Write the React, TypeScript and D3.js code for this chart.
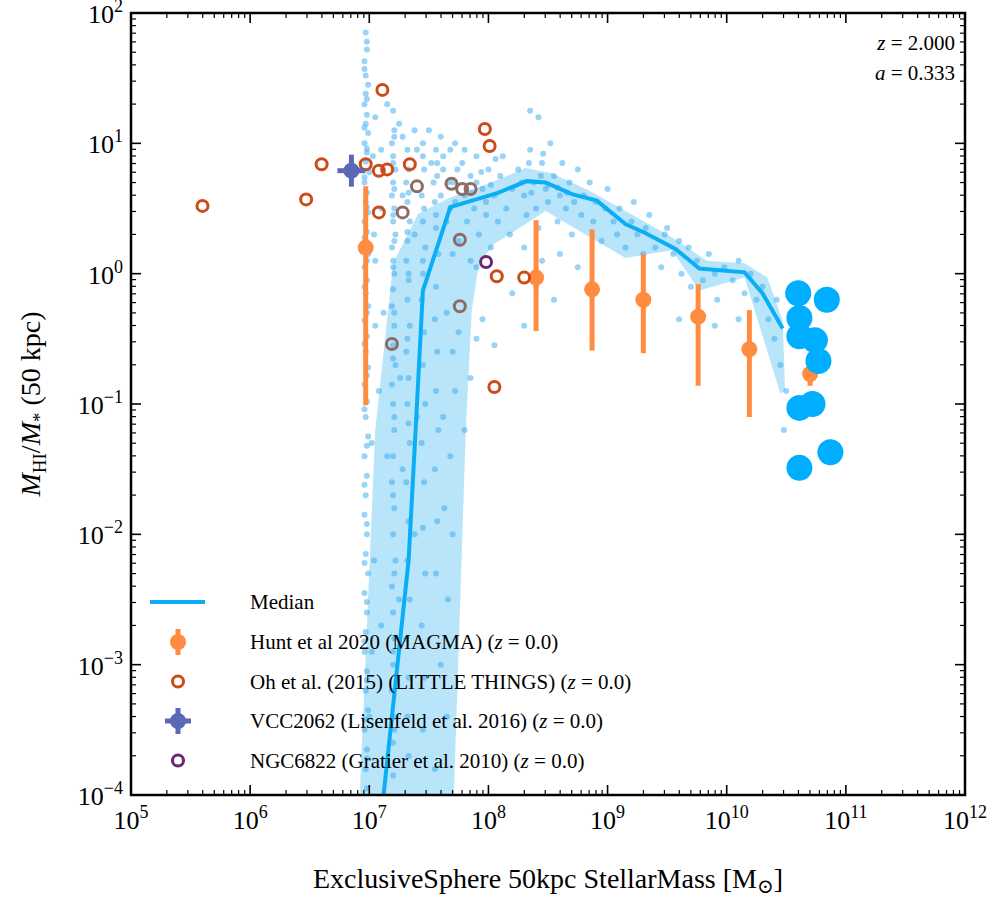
import React from "react";
import * as d3 from "d3";

const SCATTER_RAW = `6.97 1.85,6.98 1.72,6.96 1.63,6.97 1.52,6.99 1.45,6.97 1.38,6.96 1.3,6.98 1.22,6.97 1.15,6.99 1.08,6.96 1.0,6.98 0.93,6.97 0.86,7.0 0.78,6.96 0.7,6.98 0.62,6.97 0.55,6.99 0.47,6.96 0.4,6.98 0.32,6.97 0.25,6.99 0.15,6.96 0.05,6.98 -0.05,6.97 -0.15,6.99 -0.25,6.96 -0.36,6.98 -0.48,6.97 -0.6,6.99 -0.72,6.96 -0.85,6.98 -0.98,6.97 -1.1,6.99 -1.25,6.96 -1.4,6.98 -1.55,6.97 -1.7,6.96 -1.85,6.98 -2.0,6.97 -2.15,6.99 -2.3,6.96 -2.45,6.98 -2.6,6.97 -2.75,6.96 -2.9,6.98 -3.05,6.97 -3.2,6.99 -3.35,6.96 -3.5,6.98 -3.65,6.97 -3.8,6.98 -3.95,7.03 0.9,7.04 0.3,7.05 -0.4,7.02 -1.3,7.04 -2.2,7.02 -2.9,6.98 1.78,6.96 1.57,6.98 1.34,6.96 1.12,6.98 0.96,6.96 0.74,6.98 0.51,6.96 0.28,6.98 0.1,6.96 -0.1,6.98 -0.3,6.96 -0.54,6.98 -0.78,6.96 -1.04,6.98 -1.32,6.96 -1.62,6.98 -1.92,6.96 -2.22,6.98 -2.52,6.96 -2.82,6.98 -3.12,6.96 -3.42,6.98 -3.72,
7.2 1.25,7.21 1.1,7.19 1.0,7.2 0.9,7.22 0.8,7.2 0.7,7.19 0.6,7.21 0.5,7.2 0.4,7.22 0.3,7.19 0.2,7.2 0.1,7.21 0.0,7.2 -0.12,7.19 -0.25,7.21 -0.4,7.2 -0.55,7.22 -0.7,7.19 -0.85,7.2 -1.0,7.21 -1.2,7.2 -1.4,7.19 -1.6,7.21 -1.8,7.2 -2.0,7.22 -2.2,7.19 -2.4,7.2 -2.6,7.21 -2.8,7.2 -3.0,7.19 -3.2,7.21 -3.4,7.2 -3.6,7.2 -3.85,7.21 1.05,7.2 0.85,7.21 0.65,7.2 0.45,7.21 0.25,7.2 0.05,7.21 -0.3,7.2 -0.65,7.21 -1.1,7.2 -1.7,7.21 -2.3,7.2 -2.9,7.21 -3.5,
7.32 0.95,7.33 0.8,7.31 0.7,7.32 0.55,7.34 0.4,7.32 0.25,7.31 0.1,7.33 -0.05,7.32 -0.2,7.34 -0.4,7.31 -0.6,7.33 -0.8,7.32 -1.0,7.34 -1.3,7.31 -1.6,7.33 -1.9,7.32 -2.2,7.34 -2.5,7.31 -2.8,7.33 -3.1,7.32 -3.4,7.33 -3.7,7.33 0.62,7.32 0.32,7.33 0.0,7.32 -0.5,7.33 -1.15,
7.45 1.0,7.46 0.8,7.44 0.6,7.45 0.4,7.47 0.2,7.45 0.0,7.44 -0.2,7.46 -0.45,7.45 -0.7,7.47 -1.0,7.44 -1.3,7.46 -1.6,7.45 -1.95,7.47 -2.3,7.44 -2.7,7.46 -3.1,7.45 -3.5,7.45 0.9,7.46 0.5,7.45 0.1,
7.56 0.95,7.57 0.75,7.55 0.55,7.56 0.35,7.58 0.15,7.56 -0.1,7.55 -0.35,7.57 -0.6,7.56 -0.9,7.58 -1.2,7.55 -1.5,7.57 -1.9,7.56 -2.3,7.57 0.85,7.56 0.45,
7.65 -0.3,7.7 -0.6,7.72 -0.9,7.62 -1.1,7.75 -0.45,7.68 -1.4,7.8 -1.2,7.85 -0.8,7.9 -0.5,7.95 -0.35,8.05 -0.55,7.63 -1.8,7.7 -2.0,7.66 -2.5,7.6 -3.0,7.65 -3.4,7.55 -3.8,
7.05 1.2,7.1 0.95,7.15 1.3,7.25 1.15,7.28 1.05,7.38 1.1,7.4 0.95,7.5 1.1,7.52 0.85,7.6 1.05,7.62 0.8,7.68 0.95,7.7 0.7,7.72 0.55,7.78 0.85,7.8 0.6,7.82 0.4,7.85 0.75,7.88 0.5,7.9 0.9,7.92 0.3,7.95 0.65,7.98 0.45,8.0 0.8,8.02 0.2,8.05 0.6,8.08 0.4,8.1 0.75,8.12 0.9,8.15 0.5,8.18 0.3,8.2 0.65,7.65 0.4,7.75 0.25,7.7 0.15,7.6 0.6,7.85 0.1,7.9 0.05,7.28 0.6,7.38 0.3,7.1 0.5,7.05 0.1,7.12 -0.3,7.08 -0.9,7.15 -1.4,7.26 -0.8,7.28 -1.5,7.4 -1.1,7.38 -2.0,7.25 -2.5,7.1 -2.7,7.0 -3.4,7.66 0.7,7.74 0.8,7.8 0.95,7.86 0.62,7.94 0.78,8.02 0.68,8.06 0.88,7.98 0.55,7.9 0.7,7.72 1.0,7.62 0.9,7.54 0.7,7.68 0.5,
8.25 0.8,8.3 0.6,8.32 0.45,8.35 0.95,8.38 0.7,8.4 0.5,8.42 0.35,8.45 0.85,8.48 0.65,8.5 0.55,8.52 1.0,8.55 0.75,8.58 0.4,8.6 0.6,8.62 0.85,8.65 0.5,8.68 0.7,8.7 0.3,8.72 0.55,8.75 0.8,8.78 0.45,8.8 0.6,8.85 0.7,8.88 0.4,8.9 0.55,8.95 0.25,8.98 0.5,9.0 0.65,9.05 0.4,9.08 0.3,9.1 0.5,9.15 0.2,9.2 0.4,9.22 0.55,9.25 0.3,9.3 0.15,9.32 0.35,9.35 0.45,9.4 0.2,9.45 0.05,9.48 0.3,8.3 0.2,8.45 0.1,8.6 0.15,8.75 0.05,8.4 -0.1,8.55 -0.2,8.3 -0.4,8.2 -0.15,8.35 1.25,8.42 1.2,8.28 0.7,8.36 0.62,8.44 0.75,8.5 0.68,8.58 0.66,8.66 0.62,8.34 0.85,8.46 0.92,
9.5 0.35,9.55 0.15,9.6 0.25,9.62 0.0,9.68 0.2,9.7 -0.1,9.75 0.1,9.8 -0.05,9.85 0.15,9.9 0.0,9.92 -0.2,9.98 0.05,10.05 -0.05,10.1 0.1,10.15 -0.15,10.2 0.0,10.25 -0.2,10.3 -0.1,10.35 -0.35,10.4 -0.5,10.42 -0.2,10.45 -0.7,10.5 -0.9,9.6 -0.35,9.9 -0.4,10.1 -0.35,10.55 -0.1,10.48 -1.2`;
const scatter: [number, number][] = SCATTER_RAW.split(",").map((s) => s.trim().split(/\s+/).map(Number) as [number, number]);

// log10 values
const medianX = [7.12, 7.33, 7.39, 7.45, 7.68, 8.08, 8.32, 8.48, 8.70, 8.91, 9.15, 9.32, 9.57, 9.77, 10.15, 10.30, 10.47];
const medianY = [-4.0, -2.20, -1.18, -0.13, 0.51, 0.62, 0.71, 0.70, 0.61, 0.56, 0.38, 0.31, 0.19, 0.04, 0.01, -0.15, -0.42];

const bandUpX = [6.92, 7.05, 7.20, 7.41, 7.67, 8.05, 8.31, 8.53, 8.84, 9.15, 9.54, 9.83, 10.15, 10.34, 10.47, 10.49];
const bandUpY = [-4.0, -1.20, 0.08, 0.46, 0.58, 0.71, 0.81, 0.77, 0.64, 0.48, 0.28, 0.10, 0.08, -0.03, -0.36, -0.90];
const bandLoX = [10.45, 10.15, 9.77, 9.54, 9.15, 8.48, 8.26, 8.05, 7.92, 7.86, 7.81, 7.71];
const bandLoY = [-0.92, -0.03, -0.13, 0.18, 0.12, 0.48, 0.35, 0.23, 0.08, -0.28, -1.20, -4.0];

const huntX = [6.97, 8.40, 8.87, 9.30, 9.76, 10.19, 10.70];
const huntY = [0.20, -0.03, -0.12, -0.20, -0.33, -0.58, -0.77];
const huntHi = [0.67, 0.41, 0.34, 0.15, -0.08, -0.28, -0.67];
const huntLo = [-1.01, -0.44, -0.59, -0.61, -0.86, -1.10, -0.86];

const ohX = [5.60, 6.47, 6.60, 6.97, 7.08, 7.15, 7.34, 7.11, 7.08, 7.97, 8.01, 8.07, 8.30, 8.05];
const ohY = [0.52, 0.57, 0.84, 0.84, 0.79, 0.80, 0.84, 1.41, 0.47, 1.11, 0.98, -0.02, -0.03, -0.87];

const greyX = [7.40, 7.69, 7.78, 7.85, 7.76, 7.76, 7.28, 7.19];
const greyY = [0.67, 0.69, 0.65, 0.65, 0.26, -0.25, 0.47, -0.54];

const ngcX = [7.98];
const ngcY = [0.09];
const vccX = [6.85];
const vccY = [0.79];

const bigX = [10.60, 10.84, 10.61, 10.74, 10.61, 10.77, 10.61, 10.72, 10.61, 10.87];
const bigY = [-0.15, -0.20, -0.34, -0.51, -0.48, -0.67, -1.03, -1.00, -1.49, -1.37];

const xDecades = [5, 6, 7, 8, 9, 10, 11, 12];
const yDecades = [-4, -3, -2, -1, 0, 1, 2];

const C_MED = "#0aaef5";
const C_BAND = "#b0e2fa";
const C_PT = "#33aaf2";
const C_HUNT = "#ff8c40";
const C_OH = "#cc4b1a";
const C_GREY = "#8e6b63";
const C_NGC = "#6b2770";
const C_VCC = "#5a68b5";
const FONT = "Liberation Serif, Times New Roman, DejaVu Serif, serif";

export default function App() {
  const L = 131, R = 965, T = 13, B = 795;
  const x = d3.scaleLog().domain([1e5, 1e12]).range([L, R]);
  const y = d3.scaleLog().domain([1e-4, 1e2]).range([B, T]);
  const X = (v: number) => x(Math.pow(10, v));
  const Y = (v: number) => y(Math.pow(10, v));

  const line = d3.line<number>().x((_, i) => X(medianX[i])).y((_, i) => Y(medianY[i]));
  const bandPts: [number, number][] = [
    ...bandUpX.map((v, i) => [X(v), Y(bandUpY[i])] as [number, number]),
    ...bandLoX.map((v, i) => [X(v), Y(bandLoY[i])] as [number, number]),
  ];
  const bandPath = d3.line()(bandPts) + "Z";

  const ticks: JSX.Element[] = [];
  xDecades.forEach((d, di) => {
    const px = X(d);
    ticks.push(<line key={"xM" + d} x1={px} x2={px} y1={B} y2={B - 10} stroke="#000" strokeWidth={1.6} />);
    ticks.push(<line key={"xMt" + d} x1={px} x2={px} y1={T} y2={T + 10} stroke="#000" strokeWidth={1.6} />);
    if (di < xDecades.length - 1)
      for (let m = 2; m <= 9; m++) {
        const p = x(m * Math.pow(10, d));
        ticks.push(<line key={`xm${d}${m}`} x1={p} x2={p} y1={B} y2={B - 5} stroke="#000" strokeWidth={1.2} />);
        ticks.push(<line key={`xmt${d}${m}`} x1={p} x2={p} y1={T} y2={T + 5} stroke="#000" strokeWidth={1.2} />);
      }
  });
  yDecades.forEach((d, di) => {
    const py = Y(d);
    ticks.push(<line key={"yM" + d} y1={py} y2={py} x1={L} x2={L + 10} stroke="#000" strokeWidth={1.6} />);
    ticks.push(<line key={"yMr" + d} y1={py} y2={py} x1={R} x2={R - 10} stroke="#000" strokeWidth={1.6} />);
    if (di < yDecades.length - 1)
      for (let m = 2; m <= 9; m++) {
        const p = y(m * Math.pow(10, d));
        ticks.push(<line key={`ym${d}${m}`} y1={p} y2={p} x1={L} x2={L + 5} stroke="#000" strokeWidth={1.2} />);
        ticks.push(<line key={`ymr${d}${m}`} y1={p} y2={p} x1={R} x2={R - 5} stroke="#000" strokeWidth={1.2} />);
      }
  });
  const exp = (d: number) => (d < 0 ? "\u2212" + Math.abs(d) : String(d));

  const legend = [
    { label: "Hunt et al 2020 (MAGMA)", kind: "hunt" },
    { label: "Oh et al. (2015) (LITTLE THINGS)", kind: "oh" },
    { label: "VCC2062 (Lisenfeld et al. 2016)", kind: "vcc" },
    { label: "NGC6822 (Gratier et al. 2010)", kind: "ngc" },
  ];

  return (
    <svg width={996} height={900} style={{ position: "absolute", left: 0, top: 0, fontFamily: FONT }}>
      <rect width={996} height={900} fill="#fff" />
      <defs>
        <clipPath id="clip"><rect x={L} y={T} width={R - L} height={B - T} /></clipPath>
      </defs>
      <g clipPath="url(#clip)">
        <path d={bandPath} fill={C_BAND} opacity={0.9} />
        {scatter.map((p, i) => (
          <circle key={i} cx={X(p[0])} cy={Y(p[1])} r={3} fill={C_PT} opacity={0.5} />
        ))}
        <path d={line(medianX) || ""} fill="none" stroke={C_MED} strokeWidth={4} />
        {huntX.map((v, i) => (
          <g key={"h" + i}>
            <line x1={X(v)} x2={X(v)} y1={Y(huntHi[i])} y2={Y(huntLo[i])} stroke={C_HUNT} strokeWidth={5} />
            <circle cx={X(v)} cy={Y(huntY[i])} r={8} fill={C_HUNT} />
          </g>
        ))}
        {ohX.map((v, i) => (
          <circle key={"o" + i} cx={X(v)} cy={Y(ohY[i])} r={5.5} fill="none" stroke={C_OH} strokeWidth={3} />
        ))}
        {greyX.map((v, i) => (
          <circle key={"g" + i} cx={X(v)} cy={Y(greyY[i])} r={5.5} fill="none" stroke={C_GREY} strokeWidth={3} />
        ))}
        {ngcX.map((v, i) => (
          <circle key={"n" + i} cx={X(v)} cy={Y(ngcY[i])} r={5.5} fill="none" stroke={C_NGC} strokeWidth={3} />
        ))}
        {vccX.map((v, i) => (
          <g key={"v" + i}>
            <line x1={X(v) - 14} x2={X(v) + 14} y1={Y(vccY[i])} y2={Y(vccY[i])} stroke={C_VCC} strokeWidth={5} />
            <line x1={X(v)} x2={X(v)} y1={Y(vccY[i]) - 16} y2={Y(vccY[i]) + 16} stroke={C_VCC} strokeWidth={5} />
            <circle cx={X(v)} cy={Y(vccY[i])} r={8} fill={C_VCC} />
          </g>
        ))}
        {bigX.map((v, i) => (
          <circle key={"b" + i} cx={X(v)} cy={Y(bigY[i])} r={13} fill="#00aeff" />
        ))}
      </g>
      <rect x={L} y={T} width={R - L} height={B - T} fill="none" stroke="#000" strokeWidth={2.5} />
      {ticks}
      {xDecades.map((d) => (
        <text key={"xl" + d} x={X(d)} y={B + 34} textAnchor="middle" fontSize={26}>
          10<tspan dy={-11} fontSize={18}>{d}</tspan>
        </text>
      ))}
      {yDecades.map((d) => (
        <text key={"yl" + d} x={L - 8} y={Y(d) + 10} textAnchor="end" fontSize={26}>
          10<tspan dy={-11} fontSize={18}>{exp(d)}</tspan>
        </text>
      ))}
      <text x={(L + R) / 2} y={888} textAnchor="middle" fontSize={28}>
        ExclusiveSphere 50kpc StellarMass [M<tspan dy={5} fontSize={20}>{"\u2299"}</tspan><tspan dy={-5}>]</tspan>
      </text>
      <text transform={`translate(40,${(T + B) / 2}) rotate(-90)`} textAnchor="middle" fontSize={28}>
        <tspan fontStyle="italic">M</tspan><tspan dy={6} fontSize={19}>HI</tspan><tspan dy={-6}>/</tspan><tspan fontStyle="italic">M</tspan><tspan dy={6} fontSize={19}>*</tspan><tspan dy={-6}> (50 kpc)</tspan>
      </text>
      <text x={955} y={50} textAnchor="end" fontSize={21}><tspan fontStyle="italic">z</tspan> = 2.000</text>
      <text x={955} y={80} textAnchor="end" fontSize={21}><tspan fontStyle="italic">a</tspan> = 0.333</text>
      <g fontSize={21}>
        <line x1={150} x2={205} y1={602} y2={602} stroke={C_MED} strokeWidth={4} />
        <text x={250} y={609}>Median</text>
        {legend.map((e, i) => {
          const ly = 642 + i * 39.5;
          const mx = 178;
          return (
            <g key={e.kind}>
              {e.kind === "hunt" && (<g><line x1={mx} x2={mx} y1={ly - 13} y2={ly + 13} stroke={C_HUNT} strokeWidth={5} /><circle cx={mx} cy={ly} r={8} fill={C_HUNT} /></g>)}
              {e.kind === "oh" && <circle cx={mx} cy={ly} r={5.5} fill="none" stroke={C_OH} strokeWidth={3} />}
              {e.kind === "ngc" && <circle cx={mx} cy={ly} r={5.5} fill="none" stroke={C_NGC} strokeWidth={3} />}
              {e.kind === "vcc" && (<g><line x1={mx - 13} x2={mx + 13} y1={ly} y2={ly} stroke={C_VCC} strokeWidth={5} /><line x1={mx} x2={mx} y1={ly - 13} y2={ly + 13} stroke={C_VCC} strokeWidth={5} /><circle cx={mx} cy={ly} r={8} fill={C_VCC} /></g>)}
              <text x={250} y={ly + 7}>{e.label} (<tspan fontStyle="italic">z</tspan> = 0.0)</text>
            </g>
          );
        })}
      </g>
    </svg>
  );
}
